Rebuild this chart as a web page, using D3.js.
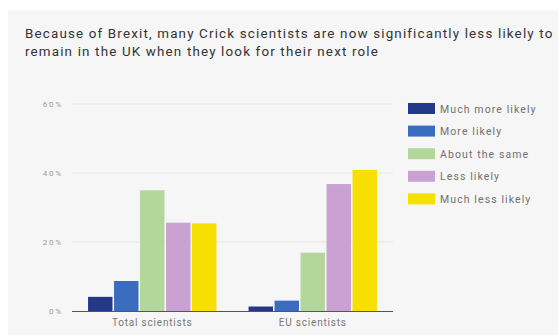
<!DOCTYPE html>
<html><head><meta charset="utf-8">
<script src="https://cdn.jsdelivr.net/npm/d3@7"></script>
<style>body{margin:0;background:#fff}svg{display:block}</style>
</head><body>
<svg id="c" width="558" height="335"></svg>
<script>
const categories = ["Total scientists", "EU scientists"];
const seriesNames = ["Much more likely", "More likely", "About the same", "Less likely", "Much less likely"];
const muchMoreLikely = [4.1, 1.3];
const moreLikely = [8.7, 3.0];
const aboutTheSame = [35.0, 16.9];
const lessLikely = [25.6, 36.8];
const muchLessLikely = [25.4, 40.9];
const yTicks = [0, 20, 40, 60];
const colors = ["#24388a", "#3a6cbf", "#b3d79a", "#c9a2d3", "#f7e000"];
const title = ["Because of Brexit, many Crick scientists are now significantly less likely to",
               "remain in the UK when they look for their next role"];

const series = [muchMoreLikely, moreLikely, aboutTheSame, lessLikely, muchLessLikely];
const svg = d3.select("#c");
svg.append("rect").attr("x", 8).attr("y", 10).attr("width", 550).attr("height", 325).attr("fill", "#f6f6f6");

const font = "Roboto,'Open Sans',sans-serif";
const t = svg.append("g").attr("font-family", font).attr("fill", "#333").attr("font-size", 13.4);
title.forEach((s, i) => {
  t.append("text").attr("x", 25).attr("y", 38 + i * 18).text(s);
});
const first = t.select("text");
const w = first.node().getComputedTextLength();
const ls = (528 - w) / title[0].length;
t.attr("letter-spacing", ls);

const margin = {left: 72, right: 393, top: 104, bottom: 311};
const y = d3.scaleLinear().domain([0, 60]).range([margin.bottom, margin.top]);
const x0 = d3.scaleBand().domain(categories).range([margin.left, margin.right]).paddingInner(0.2).paddingOuter(0.1);
const x1 = d3.scaleBand().domain(d3.range(series.length)).range([0, x0.bandwidth()]).paddingInner(0.06);

const grid = svg.append("g");
grid.selectAll("line").data(yTicks.filter(d => d > 0)).join("line")
  .attr("x1", margin.left).attr("x2", margin.right)
  .attr("y1", d => y(d)).attr("y2", d => y(d))
  .attr("stroke", "#e6e6e6").attr("stroke-width", 1);

const yAxis = svg.append("g").attr("transform", `translate(${margin.left - 6},0)`)
  .call(d3.axisLeft(y).tickValues(yTicks).tickFormat(d => d + "%").tickSize(0));
yAxis.select(".domain").remove();
yAxis.selectAll("text").attr("font-family", font).attr("font-size", 8).attr("letter-spacing", 1.8).attr("fill", "#999");

const groups = svg.append("g").selectAll("g").data(categories).join("g")
  .attr("transform", d => `translate(${x0(d)},0)`);
groups.selectAll("rect").data((d, ci) => series.map((s, si) => ({si, v: s[ci]}))).join("rect")
  .attr("x", d => x1(d.si)).attr("width", x1.bandwidth())
  .attr("y", d => y(d.v)).attr("height", d => y(0) - y(d.v))
  .attr("fill", d => colors[d.si]);

svg.append("line").attr("x1", margin.left).attr("x2", margin.right)
  .attr("y1", y(0) + 0.5).attr("y2", y(0) + 0.5).attr("stroke", "#555").attr("stroke-width", 1);

const xAxis = svg.append("g").attr("transform", `translate(0,${y(0)})`)
  .call(d3.axisBottom(x0).tickSize(0).tickPadding(8));
xAxis.select(".domain").remove();
xAxis.selectAll("text").attr("font-family", font).attr("font-size", 10).attr("letter-spacing", 0.8).attr("fill", "#777");

const legend = svg.append("g").selectAll("g").data(seriesNames).join("g")
  .attr("transform", (d, i) => `translate(408,${103 + i * 22.6})`);
legend.append("rect").attr("width", 27).attr("height", 11).attr("fill", (d, i) => colors[i]);
legend.append("text").attr("x", 32).attr("y", 9.5).text(d => d)
  .attr("font-family", font).attr("font-size", 10.5).attr("letter-spacing", 1.1).attr("fill", "#707070");
</script>
</body></html>
